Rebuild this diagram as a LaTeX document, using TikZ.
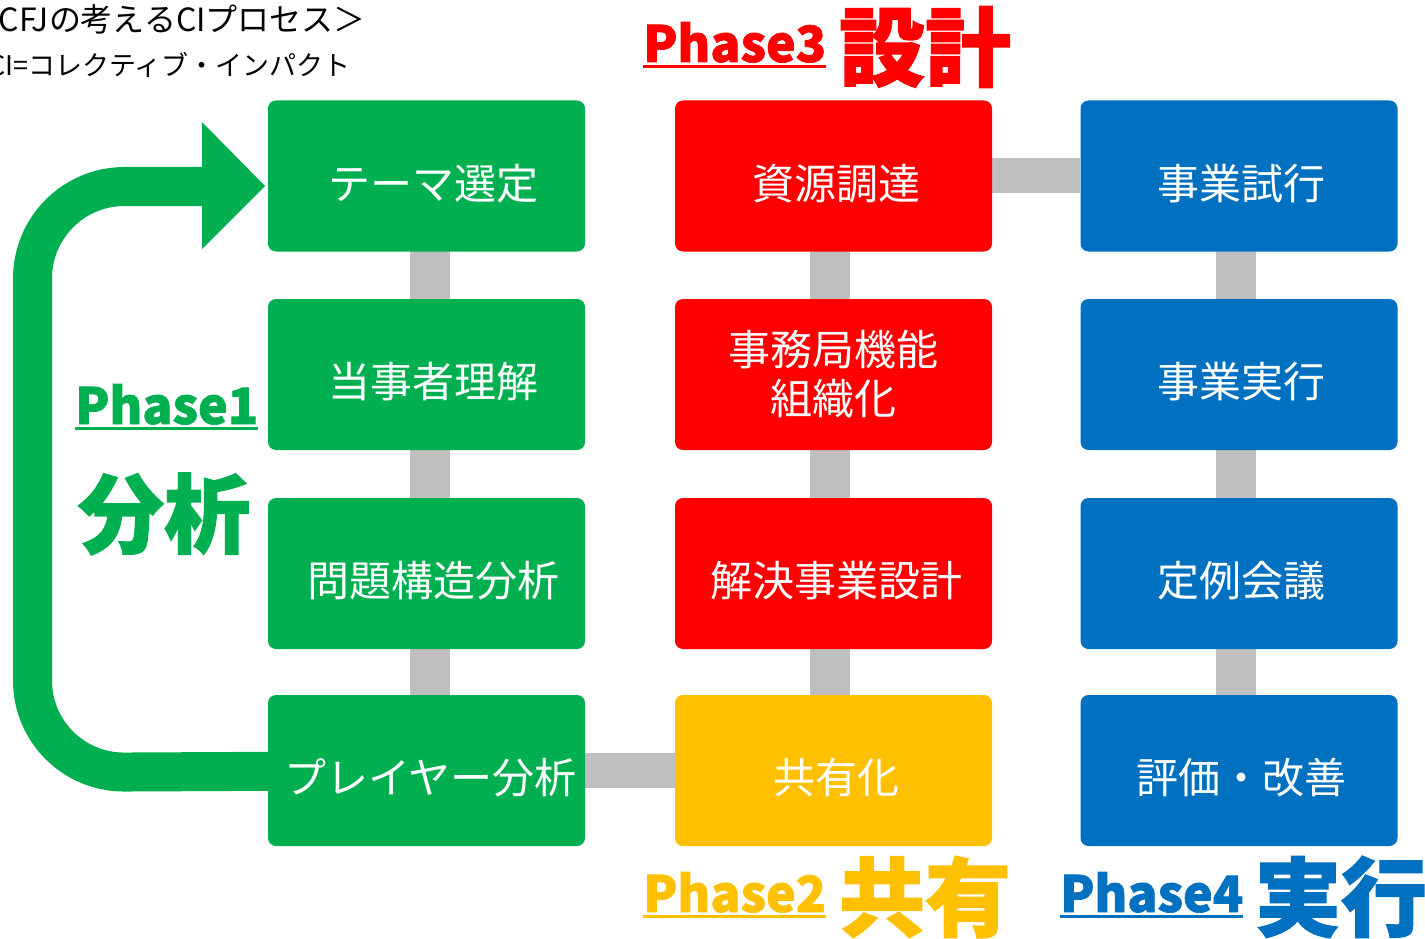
\documentclass[tikz,border=0pt]{standalone}
\usepackage{fontspec}
\setmainfont{Noto Sans CJK JP}
\newfontfamily\jp{Noto Sans CJK JP}
\newfontfamily\jpheavy{Noto Sans CJK JP}[FakeBold=1.5]
\usetikzlibrary{backgrounds}
\definecolor{cgreen}{HTML}{00B050}
\definecolor{cred}{HTML}{FF0000}
\definecolor{cblue}{HTML}{0070C0}
\definecolor{cyellow}{HTML}{FFC000}
\definecolor{cgray}{HTML}{BFBFBF}
\newcommand\lowtxt[2][5pt]{\raisebox{-7.5pt}[\height][\depth]{\hspace*{#1}#2}}
\tikzset{
  box/.style={rounded corners=8pt, minimum width=317pt, minimum height=151pt, inner sep=0pt,
    text=white, font=\jp\fontsize{42}{49}\selectfont, align=center},
  gbox/.style={box, fill=cgreen},
  rbox/.style={box, fill=cred},
  ybox/.style={box, fill=cyellow},
  bbox/.style={box, fill=cblue},
  vconn/.style={cgray, line width=40pt},
  hconn/.style={cgray, line width=35pt},
  phase/.style={inner sep=0pt, anchor=base west, font=\jpheavy\bfseries\fontsize{52}{52}\selectfont},
  big/.style={inner sep=0pt, font=\jpheavy\bfseries\fontsize{86}{86}\selectfont},
  uline/.style={line width=3.5pt},
  titletext/.style={inner sep=0pt, anchor=base east, text=black},
}
\begin{document}
\begin{tikzpicture}[x=1pt,y=-1pt]
\useasboundingbox (0,0) rectangle (1425,939);
% boxes
\node[gbox] (a1) at (426.5,176) {\lowtxt[14pt]{テーマ選定}};
\node[gbox] (a2) at (426.5,374.5) {\lowtxt[14pt]{当事者理解}};
\node[gbox] (a3) at (426.5,573.5) {\lowtxt[14pt]{問題構造分析}};
\node[gbox] (a4) at (426.5,770.5) {\lowtxt[8pt]{プレイヤー分析}};
\node[rbox] (b1) at (833.5,176) {\lowtxt{資源調達}};
\node[rbox] (b2) at (833.5,374.5) {事務局機能\\組織化};
\node[rbox] (b3) at (833.5,573.5) {\lowtxt{解決事業設計}};
\node[ybox] (b4) at (833.5,770.5) {\lowtxt{共有化}};
\node[bbox] (c1) at (1239,176) {\lowtxt{事業試行}};
\node[bbox] (c2) at (1239,374.5) {\lowtxt{事業実行}};
\node[bbox] (c3) at (1239,573.5) {\lowtxt{定例会議}};
\node[bbox] (c4) at (1239,770.5) {\lowtxt{評価・改善}};
% connectors and return arrow
\begin{scope}[on background layer]
  \fill[white] (0,0) rectangle (1425,939);
  \draw[vconn] ([xshift=3.5pt]a1.center) -- ([xshift=3.5pt]a2.center);
  \draw[vconn] ([xshift=3.5pt]a2.center) -- ([xshift=3.5pt]a3.center);
  \draw[vconn] ([xshift=3.5pt]a3.center) -- ([xshift=3.5pt]a4.center);
  \draw[vconn] ([xshift=-3.5pt]b1.center) -- ([xshift=-3.5pt]b2.center);
  \draw[vconn] ([xshift=-3.5pt]b2.center) -- ([xshift=-3.5pt]b3.center);
  \draw[vconn] ([xshift=-3.5pt]b3.center) -- ([xshift=-3.5pt]b4.center);
  \draw[vconn] ([xshift=-3pt]c1.center) -- ([xshift=-3pt]c2.center);
  \draw[vconn] ([xshift=-3pt]c2.center) -- ([xshift=-3pt]c3.center);
  \draw[vconn] ([xshift=-3pt]c3.center) -- ([xshift=-3pt]c4.center);
  \draw[hconn] (b1) -- (c1);
  \draw[hconn] (a4) -- (b4);
  \coordinate (ret) at (204,186.5);
  \draw[cgreen, line width=39pt, rounded corners=92pt] (a4.center) -- (32.5,772.5) -- (32.5,186.5) -- (ret);
\end{scope}
\coordinate (tip) at (265,186);
\fill[cgreen] (202,122) -- (tip) -- (202,249) -- cycle;
% title
\node[titletext, font=\jp\fontsize{32}{32}\selectfont] (t1) at (366,32) {CFJの考えるCIプロセス＞};
\node[titletext, font=\jp\fontsize{27}{27}\selectfont] (t2) at (351,76) {CI=コレクティブ・インパクト};
% phase labels
\node[phase, text=cgreen] (p1) at (75,424) {\resizebox{183pt}{!}{Phase1}};
\draw[uline, cgreen] ([yshift=-4.5pt]p1.base west) -- ([yshift=-4.5pt]p1.base east);
\node[big, text=cgreen] (k1) at (164,514) {分析};
\node[phase, text=cred] (p3) at (643,62) {\resizebox{183pt}{!}{Phase3}};
\draw[uline, cred] ([yshift=-4.5pt]p3.base west) -- ([yshift=-4.5pt]p3.base east);
\node[big, text=cred] (k3) at (925,47) {設計};
\node[phase, text=cyellow] (p2) at (643,912) {\resizebox{183pt}{!}{Phase2}};
\draw[uline, cyellow] ([yshift=-4.5pt]p2.base west) -- ([yshift=-4.5pt]p2.base east);
\node[big, text=cyellow] (k2) at (925,897) {共有};
\node[phase, text=cblue] (p4) at (1060,912) {\resizebox{183pt}{!}{Phase4}};
\draw[uline, cblue] ([yshift=-4.5pt]p4.base west) -- ([yshift=-4.5pt]p4.base east);
\node[big, text=cblue] (k4) at (1341,897) {実行};
\end{tikzpicture}
\end{document}
